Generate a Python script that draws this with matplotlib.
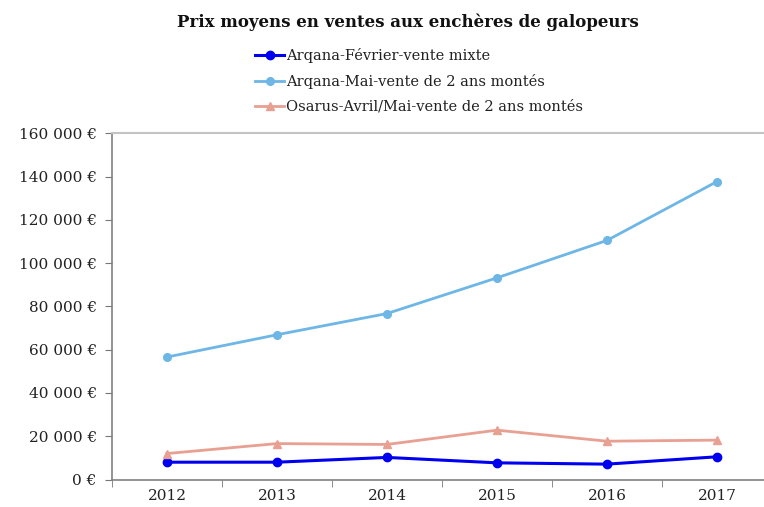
import matplotlib
matplotlib.use("Agg")
import matplotlib.pyplot as plt
from matplotlib.ticker import FixedLocator, FuncFormatter

years = ["2012", "2013", "2014", "2015", "2016", "2017"]
arqana_fevrier = [8000, 8000, 10200, 7700, 7100, 10500]
arqana_mai = [56600, 66900, 76700, 93200, 110500, 137700]
osarus = [12000, 16600, 16200, 22800, 17700, 18200]
series_names = ["Arqana-Février-vente mixte",
                "Arqana-Mai-vente de 2 ans montés",
                "Osarus-Avril/Mai-vente de 2 ans montés"]
yticks = [0, 20000, 40000, 60000, 80000, 100000, 120000, 140000, 160000]

plt.rcParams['font.family'] = ['DejaVu Serif']

fig = plt.figure(figsize=(7.64, 5.07), dpi=100)
ax = fig.add_axes([112/764, 1-479.5/507, 660/764, (479.5-133.3)/507])

x = list(range(len(years)))
ax.plot(x, arqana_fevrier, color="#0000F0", lw=2.2, marker="o", ms=6, label=series_names[0])
ax.plot(x, arqana_mai, color="#6DB6E6", lw=2.0, marker="o", ms=5.5, label=series_names[1])
ax.plot(x, osarus, color="#E8A092", lw=2.0, marker="^", ms=6, label=series_names[2])

ax.set_xlim(-0.5, 5.5)
ax.set_ylim(0, 160000)
ax.set_xticks(x)
ax.set_xticklabels(years, fontsize=11)
ax.tick_params(axis="x", which="major", length=0, pad=7, colors="#222222")
ax.xaxis.set_minor_locator(FixedLocator([i - 0.5 for i in range(len(years) + 1)]))
ax.tick_params(axis="x", which="minor", length=5, direction="out", color="#777777")
ax.set_yticks(yticks)
ax.yaxis.set_major_formatter(FuncFormatter(lambda v, p: f"{int(v):,}".replace(",", " ") + " €"))
ax.tick_params(axis="y", length=5, direction="out", color="#777777", labelsize=11, pad=6, labelcolor="#222222")

ax.spines["left"].set_color("#808080")
ax.spines["bottom"].set_color("#808080")
ax.spines["left"].set_linewidth(1.2)
ax.spines["bottom"].set_linewidth(1.2)
ax.spines["top"].set_color("#c4c4c4")
ax.spines["top"].set_linewidth(1.5)
ax.spines["right"].set_visible(False)

fig.text(408/764, 1-22/507, "Prix moyens en ventes aux enchères de galopeurs",
         ha="center", va="center", fontsize=12, fontweight="bold", color="#111111")

leg = fig.legend(loc="upper left", bbox_to_anchor=(255/764, 1-48/507), frameon=False,
                 fontsize=10.5, handlelength=2.0, handletextpad=0.1, labelspacing=0.75,
                 borderaxespad=0, borderpad=0)
for t in leg.get_texts():
    t.set_color("#222222")

fig.savefig("out.png", dpi=100)
